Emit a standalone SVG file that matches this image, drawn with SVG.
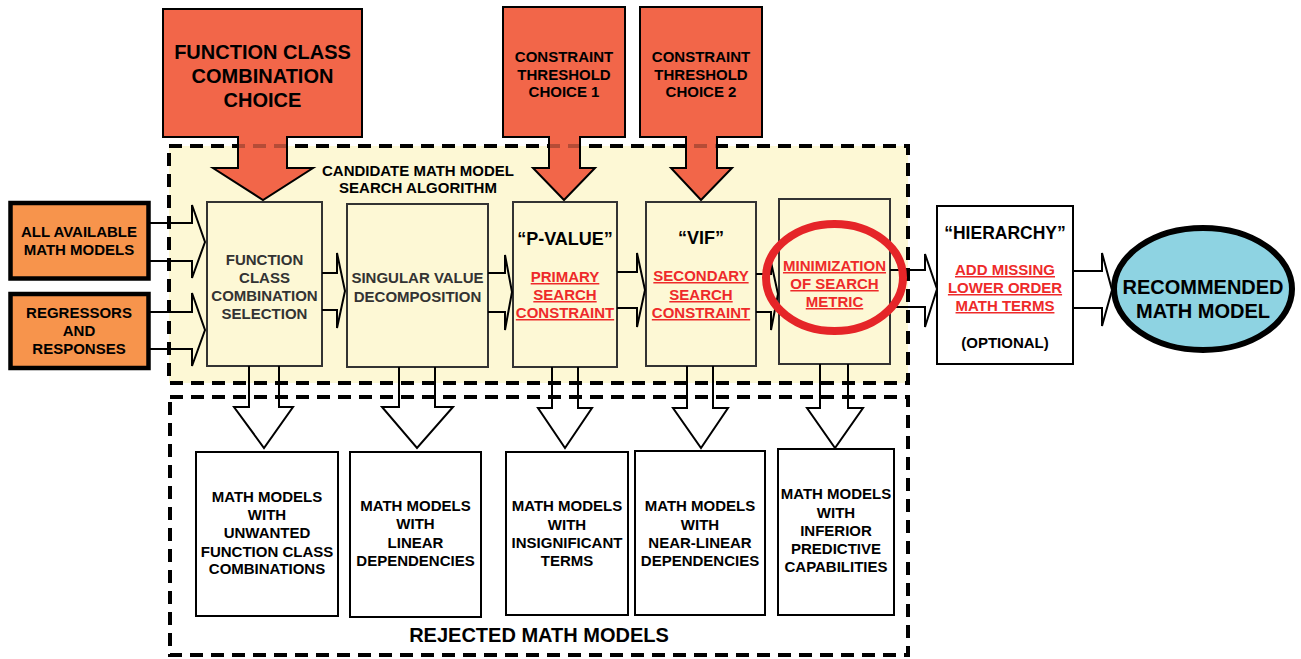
<svg xmlns="http://www.w3.org/2000/svg" width="1301" height="659" viewBox="0 0 1301 659">
<style>
text{font-family:"Liberation Sans",Arial,sans-serif;font-weight:bold;text-anchor:middle;fill:#000}
.t15{font-size:15px}
.t20{font-size:20px}
.t18{font-size:18px}
.gray{fill:#333}
.red{fill:#ee2a2a;text-decoration:underline}
.proc{fill:#fdf8d5;stroke:#333;stroke-width:2}
.rej{fill:#fff;stroke:#000;stroke-width:2}
.choice{fill:#f26649;stroke:#000;stroke-width:2}
.input{fill:#f7944c;stroke:#000;stroke-width:4.5}
.dash{fill:none;stroke:#000;stroke-width:4;stroke-dasharray:13 8}
.blk{fill:none;stroke:#000;stroke-width:2;stroke-linejoin:miter}
.blkw{fill:#fff;stroke:#000;stroke-width:2}
</style>

<g id="candidate-region">
<rect x="169" y="146" width="739" height="237" fill="#fdf8d5"/>
</g>

<g id="choice-function-class">
<path class="choice" d="M163,9 H362 V137 H287 V168 H313 L263,200 L213,168 H238 V137 H163 Z"/>
<text class="t20" x="262.5" y="59">FUNCTION CLASS</text>
<text class="t20" x="262.5" y="83">COMBINATION</text>
<text class="t20" x="262.5" y="107">CHOICE</text>
</g>
<g id="choice-threshold-1">
<path class="choice" d="M503,7 H625 V137 H580 V168 H595 L564,200 L533,168 H549 V137 H503 Z"/>
<text class="t15" x="564" y="62">CONSTRAINT</text>
<text class="t15" x="564" y="80">THRESHOLD</text>
<text class="t15" x="564" y="97">CHOICE 1</text>
</g>
<g id="choice-threshold-2">
<path class="choice" d="M640,7 H762 V137 H717 V168 H732 L701,200 L671,168 H686 V137 H640 Z"/>
<text class="t15" x="701" y="62">CONSTRAINT</text>
<text class="t15" x="701" y="80">THRESHOLD</text>
<text class="t15" x="701" y="97">CHOICE 2</text>
</g>

<g id="region-borders">
<rect class="dash" x="169" y="146" width="739" height="237"/>
<rect class="dash" x="170" y="397" width="738" height="258"/>
</g>
<g id="stem-overlay" opacity="0.75">
<rect x="239" y="142" width="47" height="8" fill="#f26649"/>
<rect x="550" y="142" width="29" height="8" fill="#f26649"/>
<rect x="687" y="142" width="29" height="8" fill="#f26649"/>
</g>

<text class="t15" x="418" y="176">CANDIDATE MATH MODEL</text>
<text class="t15" x="418" y="193">SEARCH ALGORITHM</text>
<text class="t20" x="539" y="642">REJECTED MATH MODELS</text>

<g id="input-all-models">
<rect class="input" x="10.5" y="203" width="138" height="75.5"/>
<text class="t15" x="79" y="237">ALL AVAILABLE</text>
<text class="t15" x="79" y="255">MATH MODELS</text>
</g>
<g id="input-regressors">
<rect class="input" x="10.5" y="294" width="138" height="74"/>
<text class="t15" x="79" y="318">REGRESSORS</text>
<text class="t15" x="79" y="336">AND</text>
<text class="t15" x="79" y="354">RESPONSES</text>
</g>

<g id="fccs">
<rect class="proc" x="207" y="202" width="115" height="164"/>
<text class="t15 gray" x="264.5" y="265">FUNCTION</text>
<text class="t15 gray" x="264.5" y="283">CLASS</text>
<text class="t15 gray" x="264.5" y="301">COMBINATION</text>
<text class="t15 gray" x="264.5" y="319">SELECTION</text>
</g>
<g id="svd">
<rect class="proc" x="347" y="204" width="141" height="163"/>
<text class="t15 gray" x="417.5" y="283">SINGULAR VALUE</text>
<text class="t15 gray" x="417.5" y="302">DECOMPOSITION</text>
</g>
<g id="pvalue">
<rect class="proc" x="513" y="202" width="104" height="165"/>
<text class="t18" x="565" y="245">“P-VALUE”</text>
<text class="t15 red" x="565" y="282">PRIMARY</text>
<text class="t15 red" x="565" y="300">SEARCH</text>
<text class="t15 red" x="565" y="318">CONSTRAINT</text>
</g>
<g id="vif">
<rect class="proc" x="646" y="202" width="110" height="164"/>
<text class="t18" x="701" y="244">“VIF”</text>
<text class="t15 red" x="701" y="281">SECONDARY</text>
<text class="t15 red" x="701" y="300">SEARCH</text>
<text class="t15 red" x="701" y="318">CONSTRAINT</text>
</g>
<g id="minimization">
<rect class="proc" x="779" y="199" width="111" height="165"/>
<text class="t15 red" x="834.5" y="271">MINIMIZATION</text>
<text class="t15 red" x="834.5" y="289">OF SEARCH</text>
<text class="t15 red" x="834.5" y="307">METRIC</text>
</g>
<g id="hierarchy">
<rect class="rej" x="937" y="206" width="136" height="158"/>
<text x="1005" y="239" style="font-size:17.5px">“HIERARCHY”</text>
<text class="t15 red" x="1005" y="275">ADD MISSING</text>
<text class="t15 red" x="1005" y="293">LOWER ORDER</text>
<text class="t15 red" x="1005" y="311">MATH TERMS</text>
<text class="t15" x="1005" y="348">(OPTIONAL)</text>
</g>
<g id="recommended">
<ellipse cx="1203" cy="289" rx="89" ry="61" fill="#8ed3e2" stroke="#000" stroke-width="6"/>
<text class="t20" x="1203" y="294">RECOMMENDED</text>
<text class="t20" x="1203" y="318">MATH MODEL</text>
</g>

<g id="rejected-1">
<rect class="rej" x="196" y="452" width="142" height="164"/>
<text class="t15" x="267" y="502">MATH MODELS</text>
<text class="t15" x="267" y="520">WITH</text>
<text class="t15" x="267" y="538">UNWANTED</text>
<text class="t15" x="267" y="557">FUNCTION CLASS</text>
<text class="t15" x="267" y="574">COMBINATIONS</text>
</g>
<g id="rejected-2">
<rect class="rej" x="350" y="452" width="131" height="165"/>
<text class="t15" x="415.5" y="511">MATH MODELS</text>
<text class="t15" x="415.5" y="529">WITH</text>
<text class="t15" x="415.5" y="548">LINEAR</text>
<text class="t15" x="415.5" y="566">DEPENDENCIES</text>
</g>
<g id="rejected-3">
<rect class="rej" x="506" y="452" width="122" height="163"/>
<text class="t15" x="567" y="511">MATH MODELS</text>
<text class="t15" x="567" y="530">WITH</text>
<text class="t15" x="567" y="548">INSIGNIFICANT</text>
<text class="t15" x="567" y="566">TERMS</text>
</g>
<g id="rejected-4">
<rect class="rej" x="635" y="451" width="130" height="164"/>
<text class="t15" x="700" y="511">MATH MODELS</text>
<text class="t15" x="700" y="530">WITH</text>
<text class="t15" x="700" y="548">NEAR-LINEAR</text>
<text class="t15" x="700" y="566">DEPENDENCIES</text>
</g>
<g id="rejected-5">
<rect class="rej" x="778" y="449" width="116" height="166"/>
<text class="t15" x="836" y="499">MATH MODELS</text>
<text class="t15" x="836" y="518">WITH</text>
<text class="t15" x="836" y="536">INFERIOR</text>
<text class="t15" x="836" y="554">PREDICTIVE</text>
<text class="t15" x="836" y="572">CAPABILITIES</text>
</g>

<g id="connectors">
<path class="blk" d="M150,223 H192 V205 L205,242 L192,278 V261 H150"/>
<path class="blk" d="M150,312 H192 V293 L205,330 L192,366 V349 H150"/>
<path class="blk" d="M322,273 H337 V253 L345,291 L337,328 V310 H322"/>
<path class="blk" d="M488,273 H505 V255 L512,292 L505,330 V312 H488"/>
<path class="blk" d="M617,272 H637 V253 L645,290 L637,327 V308 H617"/>
<path class="blk" d="M756,274 H771 V262 L778,294 L771,330 V312 H756"/>
<path class="blk" d="M890,270 H925 V254 L937,289 L925,327 V307 H890"/>
<path class="blk" d="M1073,271 H1102 V253 L1112,290 L1102,326 V308 H1073"/>
<path class="blk" d="M249,366 V407 H234 L264,448 L293,407 H279 V366"/>
<path class="blk" d="M399,367 V407 H382 L417,448 L453,407 H435 V367"/>
<path class="blk" d="M552,367 V408 H538 L565,448 L592,408 H578 V367"/>
<path class="blk" d="M687,366 V408 H673 L701,448 L728,408 H713 V366"/>
<path class="blk" d="M820,364 V408 H807 L835,448 L863,408 H848 V364"/>
</g>

<g id="highlight">
<ellipse cx="834.5" cy="277.5" rx="68.5" ry="53.5" fill="none" stroke="#e52528" stroke-width="8"/>
</g>
</svg>
